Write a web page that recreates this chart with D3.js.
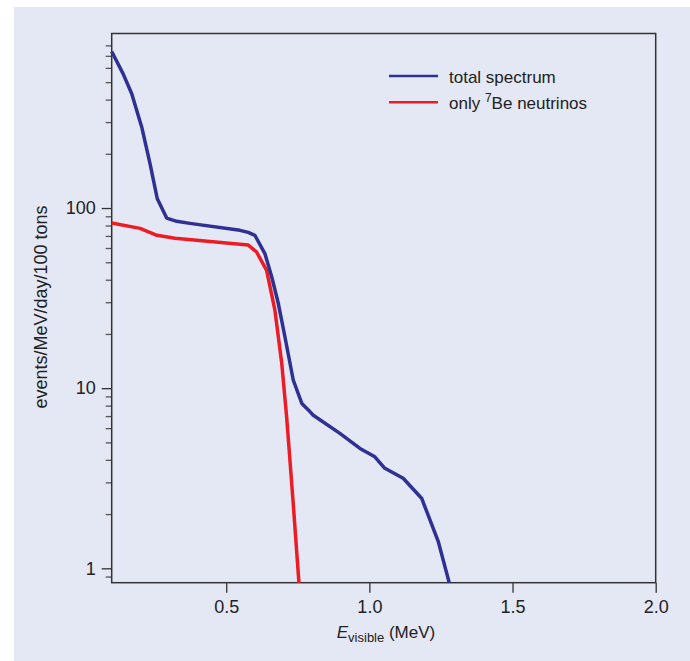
<!DOCTYPE html>
<html>
<head>
<meta charset="utf-8">
<script src="https://cdn.jsdelivr.net/npm/d3@7"></script>
<style>
  body { margin: 0; background: #fff; }
  svg { display: block; font-family: "Liberation Sans", Arial, sans-serif; }
</style>
</head>
<body>
<div id="chart"></div>
<script>
// energy (MeV) and rate (events/MeV/day/100 tons)
const totalE = [0.1, 0.14, 0.17, 0.205, 0.234, 0.259, 0.292, 0.327, 0.373, 0.548, 0.577, 0.6, 0.635, 0.659, 0.682, 0.705, 0.734, 0.764, 0.793, 0.804, 0.897, 0.967, 1.019, 1.054, 1.118, 1.183, 1.241, 1.279];
const totalRate = [740, 556, 431, 281, 176, 113, 88, 84.4, 82.2, 75.2, 73.3, 70.6, 55.9, 41.4, 29.5, 19.3, 11.1, 8.23, 7.39, 7.08, 5.61, 4.63, 4.16, 3.59, 3.16, 2.44, 1.40, 0.83];
const beE = [0.1, 0.199, 0.258, 0.321, 0.548, 0.577, 0.606, 0.641, 0.670, 0.694, 0.711, 0.734, 0.754];
const beRate = [82.6, 77.1, 70.6, 68, 62.9, 62.3, 57, 45.1, 27.1, 13.7, 6.93, 2.29, 0.83];

const xTicks = [0.5, 1.0, 1.5, 2.0];
const yMajor = [1, 10, 100];
const yMinor = [0.9, 2, 3, 4, 5, 6, 7, 8, 9, 20, 30, 40, 50, 60, 70, 80, 90, 200, 300, 400, 500, 600, 700, 800];

const legendItems = [
  { key: "total", color: "#2e3192" },
  { key: "be", color: "#ed1c24" }
];

const width = 690, height = 661;
const margin = { top: 33.5, right: 34.3, bottom: 78.3, left: 111.7 };

const svg = d3.select("#chart").append("svg")
  .attr("width", width).attr("height", height);

svg.append("rect")
  .attr("x", 14).attr("y", 7)
  .attr("width", width - 14).attr("height", height - 7)
  .attr("fill", "#e4e7f4");

const x = d3.scaleLinear()
  .domain([0.1, 2.0])
  .range([margin.left, width - margin.right]);

const y = d3.scaleLog()
  .domain([0.832, 931])
  .range([height - margin.bottom, margin.top]);

const axisColor = "#333";

// x axis
const gx = svg.append("g")
  .attr("transform", `translate(0,${height - margin.bottom})`)
  .call(d3.axisBottom(x).tickValues(xTicks).tickFormat(d3.format(".1f")).tickSize(10).tickSizeOuter(0).tickPadding(8));
gx.select(".domain").remove();
gx.selectAll("line").attr("stroke", axisColor).attr("stroke-width", 1.3);
gx.selectAll("text").attr("fill", "#222").style("font-size", "18px");

// y axis, major
const gy = svg.append("g")
  .attr("transform", `translate(${margin.left},0)`)
  .call(d3.axisLeft(y).tickValues(yMajor).tickFormat(d3.format("d")).tickSize(10).tickSizeOuter(0).tickPadding(6));
gy.select(".domain").remove();
gy.selectAll("line").attr("stroke", axisColor).attr("stroke-width", 1.3);
gy.selectAll("text").attr("fill", "#222").style("font-size", "18px");

// y axis, minor
const gyMinor = svg.append("g")
  .attr("transform", `translate(${margin.left},0)`)
  .call(d3.axisLeft(y).tickValues(yMinor).tickFormat("").tickSize(6).tickSizeOuter(0));
gyMinor.select(".domain").remove();
gyMinor.selectAll("line").attr("stroke", "#555").attr("stroke-width", 1.3);

// frame
svg.append("rect")
  .attr("x", margin.left).attr("y", margin.top)
  .attr("width", width - margin.right - margin.left)
  .attr("height", height - margin.bottom - margin.top)
  .attr("fill", "none").attr("stroke", axisColor).attr("stroke-width", 1.5);

const line = d3.line()
  .x(d => x(d[0]))
  .y(d => y(d[1]));

svg.append("path")
  .datum(beE.map((e, i) => [e, beRate[i]]))
  .attr("d", line)
  .attr("fill", "none").attr("stroke", legendItems[1].color)
  .attr("stroke-width", 3.5).attr("stroke-linejoin", "round");

svg.append("path")
  .datum(totalE.map((e, i) => [e, totalRate[i]]))
  .attr("d", line)
  .attr("fill", "none").attr("stroke", legendItems[0].color)
  .attr("stroke-width", 3.5).attr("stroke-linejoin", "round");

// legend
const lg = svg.append("g").attr("transform", "translate(389,76)");
legendItems.forEach((it, i) => {
  lg.append("line")
    .attr("x1", 0).attr("x2", 49)
    .attr("y1", i * 26.3).attr("y2", i * 26.3)
    .attr("stroke", it.color).attr("stroke-width", 2.5);
});
lg.append("text").attr("x", 60).attr("y", 7).attr("fill", "#222")
  .style("font-size", "17px").text("total spectrum");
const t2 = lg.append("text").attr("x", 60).attr("y", 33.3).attr("fill", "#222")
  .style("font-size", "17px");
t2.append("tspan").text("only ");
t2.append("tspan").attr("dy", -7).style("font-size", "12px").text("7");
t2.append("tspan").attr("dy", 7).text("Be neutrinos");

// axis titles
svg.append("text")
  .attr("transform", `translate(47,307) rotate(-90)`)
  .attr("text-anchor", "middle").attr("fill", "#222")
  .style("font-size", "18px")
  .text("events/MeV/day/100 tons");

const xt = svg.append("text")
  .attr("x", 386).attr("y", 638)
  .attr("text-anchor", "middle").attr("fill", "#222")
  .style("font-size", "17px");
xt.append("tspan").style("font-style", "italic").text("E");
xt.append("tspan").attr("dy", 4).style("font-size", "13px").text("visible");
xt.append("tspan").attr("dy", -4).text(" (MeV)");
</script>
</body>
</html>
